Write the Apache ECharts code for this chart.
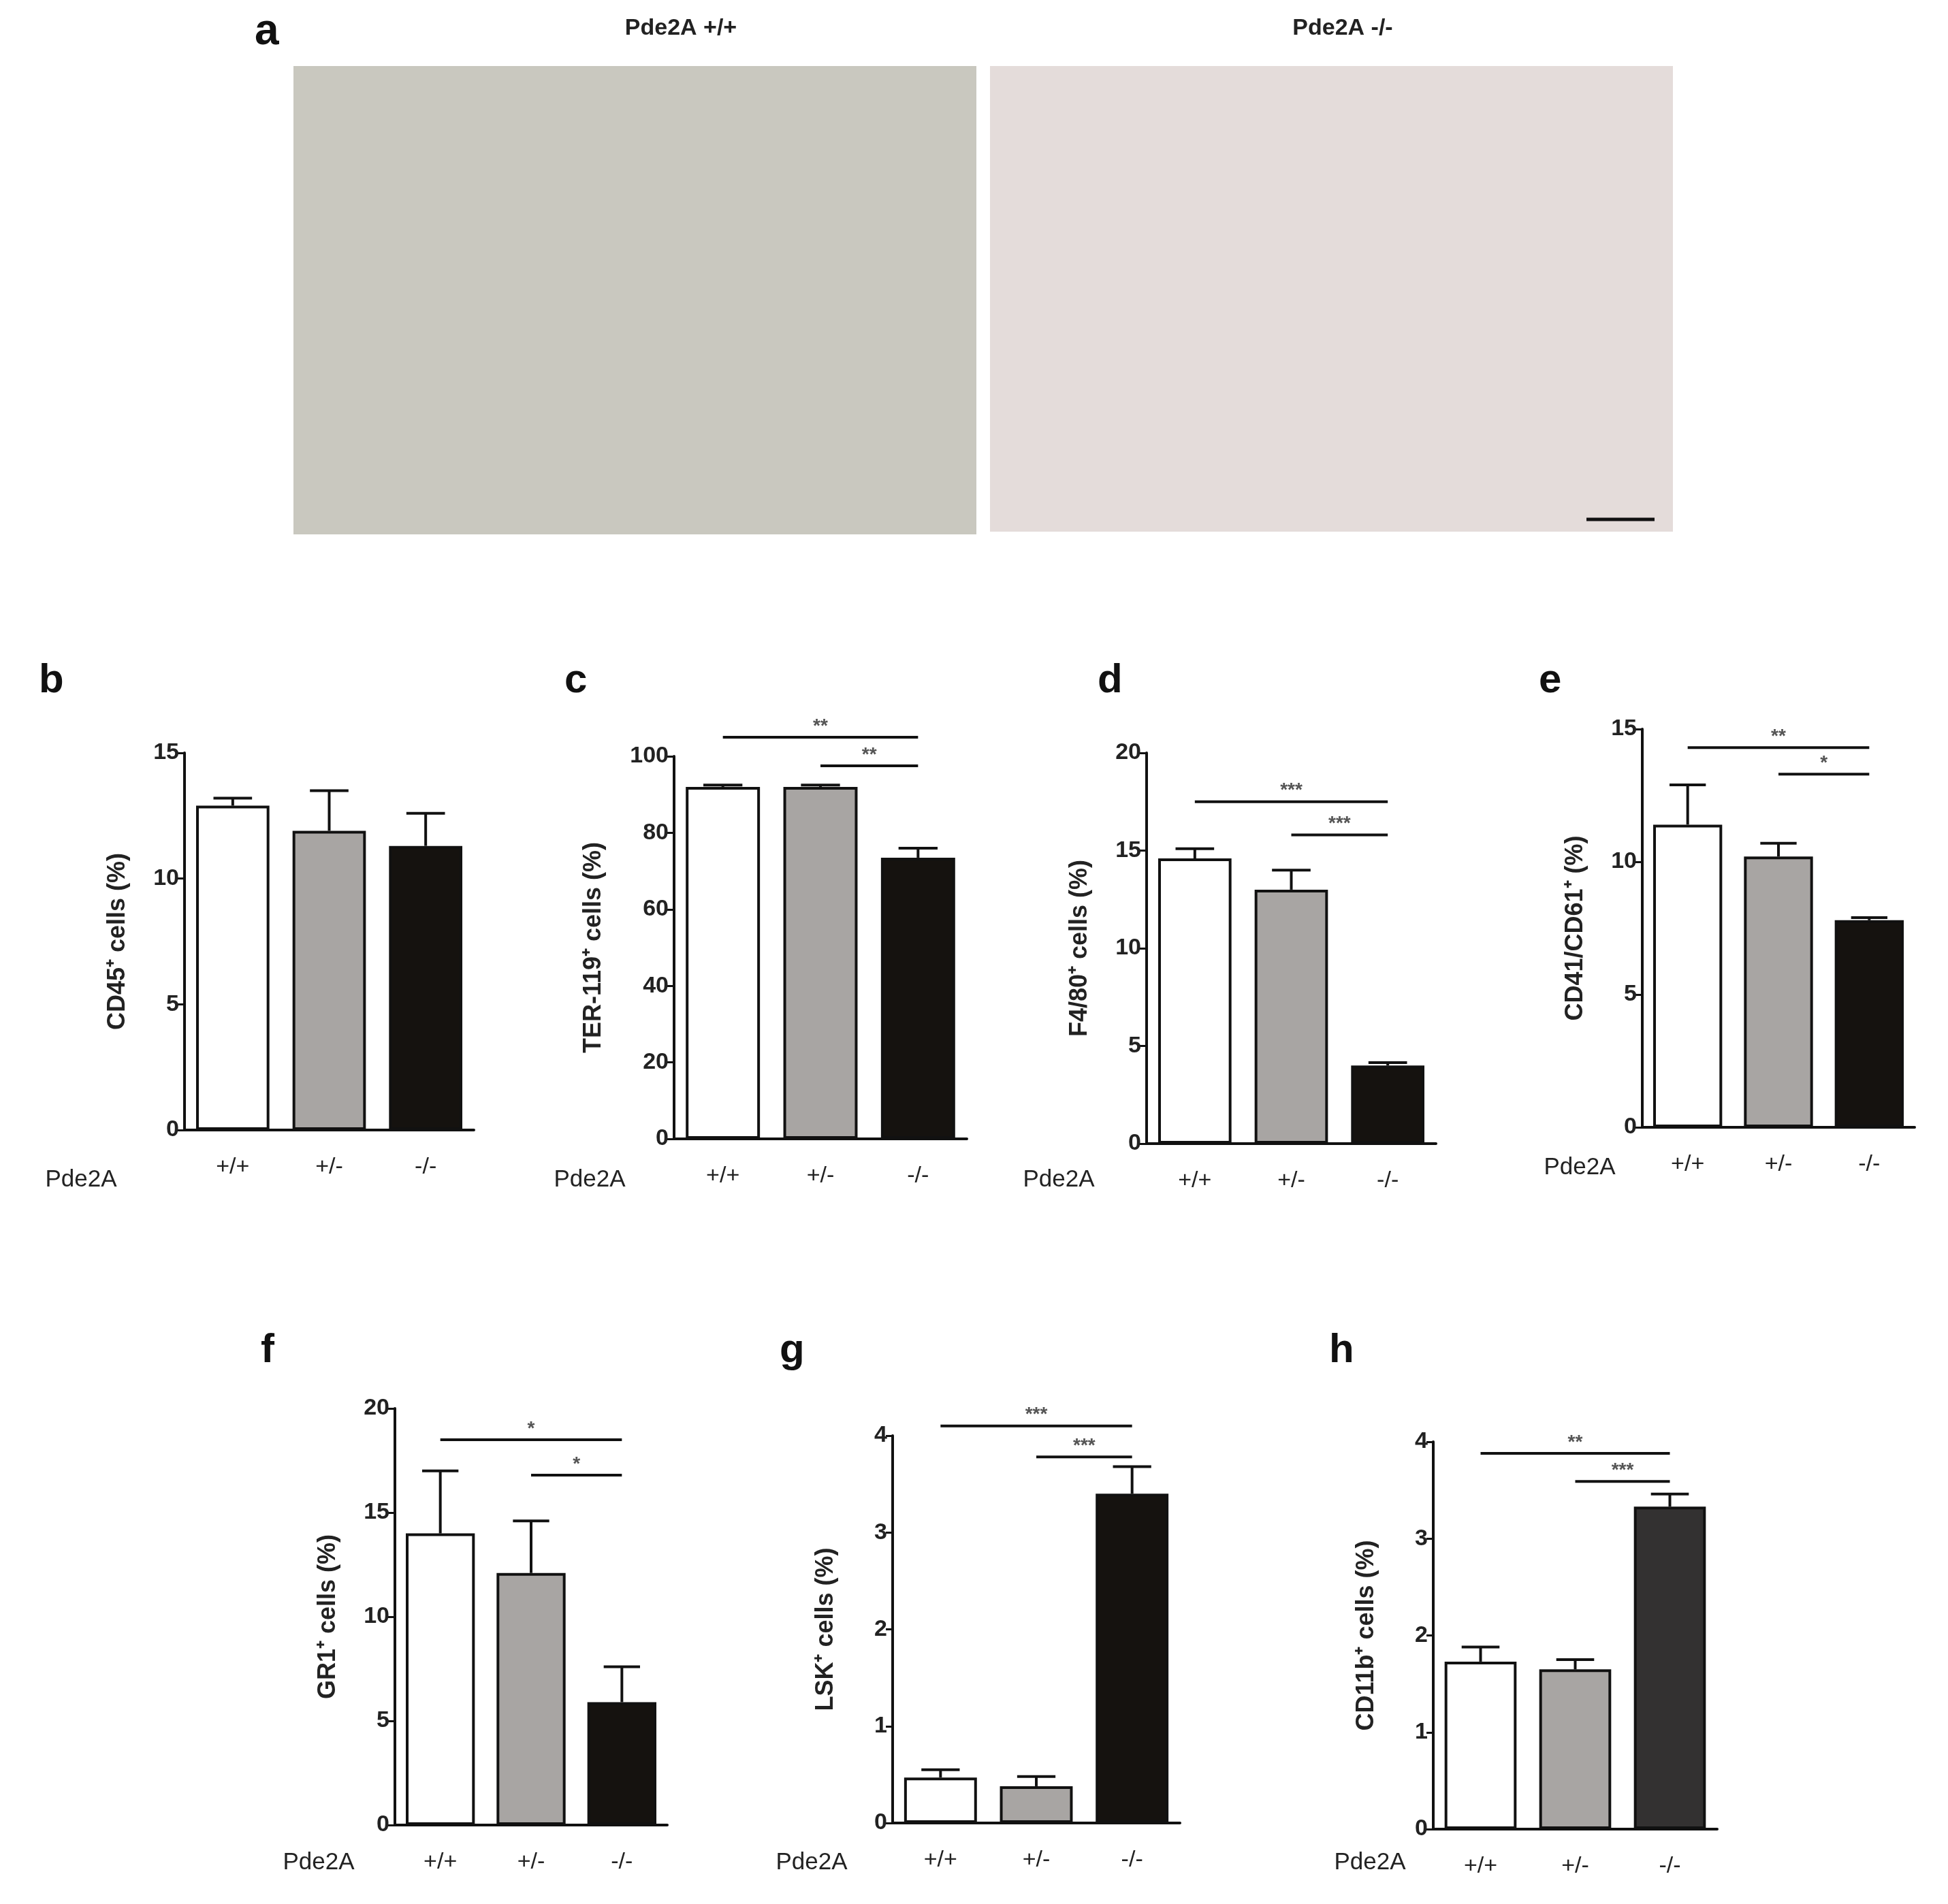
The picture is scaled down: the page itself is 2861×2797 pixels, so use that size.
<!DOCTYPE html>
<html><head><meta charset="utf-8">
<script src="https://cdn.jsdelivr.net/npm/echarts@6/dist/echarts.min.js"></script>
<style>html,body{margin:0;background:#fff}#c{width:2861px;height:2797px}</style>
</head><body><div id="c"></div>
<script>
const genotypes = ['+/+', '+/-', '-/-'];

// values (mean, error)
const bVals = [12.9, 11.9, 11.3], bErr = [0.3, 1.6, 1.3];
const cVals = [92, 92, 73.5],     cErr = [0.5, 0.5, 2.5];
const dVals = [14.6, 13.0, 4.0],  dErr = [0.5, 1.0, 0.15];
const eVals = [11.4, 10.2, 7.8],  eErr = [1.5, 0.5, 0.1];
const fVals = [14.0, 12.1, 5.9],  fErr = [3.0, 2.5, 1.7];
const gVals = [0.47, 0.38, 3.4],  gErr = [0.08, 0.1, 0.28];
const hVals = [1.73, 1.65, 3.33], hErr = [0.15, 0.1, 0.13];

// significance brackets: [from, to, height, label]
const cSig = [[0, 2, 105, '**'], [1, 2, 97.5, '**']];
const dSig = [[0, 2, 17.5, '***'], [1, 2, 15.8, '***']];
const eSig = [[0, 2, 14.3, '**'], [1, 2, 13.3, '*']];
const fSig = [[0, 2, 18.5, '*'], [1, 2, 16.8, '*']];
const gSig = [[0, 2, 4.1, '***'], [1, 2, 3.78, '***']];
const hSig = [[0, 2, 3.88, '**'], [1, 2, 3.59, '***']];

const panels = [
  { letter: 'b', name: 'CD45⁺ cells (%)', vals: bVals, err: bErr, sig: [], max: 15, step: 5, box: [271, 1106, 425, 554], lp: [77, 1000], pde: [119, 1733], dark: '#15120f' },
  { letter: 'c', name: 'TER-119⁺ cells (%)', vals: cVals, err: cErr, sig: cSig, max: 100, step: 20, box: [990, 1111, 430, 562], lp: [849, 1000], pde: [866, 1733], dark: '#15120f' },
  { letter: 'd', name: 'F4/80⁺ cells (%)', vals: dVals, err: dErr, sig: dSig, max: 20, step: 5, box: [1684, 1106, 425, 574], lp: [1632, 1000], pde: [1555, 1733], dark: '#15120f' },
  { letter: 'e', name: 'CD41/CD61⁺ (%)', vals: eVals, err: eErr, sig: eSig, max: 15, step: 5, box: [2412, 1071, 400, 585], lp: [2280, 1000], pde: [2320, 1715], dark: '#15120f' },
  { letter: 'f', name: 'GR1⁺ cells (%)', vals: fVals, err: fErr, sig: fSig, max: 20, step: 5, box: [580, 2069, 400, 612], lp: [403, 1984], pde: [468, 2736], dark: '#15120f' },
  { letter: 'g', name: 'LSK⁺ cells (%)', vals: gVals, err: gErr, sig: gSig, max: 4, step: 1, box: [1311, 2109, 422, 569], lp: [1165, 1984], pde: [1192, 2736], dark: '#15120f' },
  { letter: 'h', name: 'CD11b⁺ cells (%)', vals: hVals, err: hErr, sig: hSig, max: 4, step: 1, box: [2105, 2118, 417, 569], lp: [1972, 1984], pde: [2012, 2736], dark: '#333131' }
];

const font = 'Liberation Sans, Arial, sans-serif';
const grid = [], xAxis = [], yAxis = [], series = [], graphic = [];

panels.forEach((p, i) => {
  const [l, t, w, h] = p.box;
  grid.push({ left: l, top: t, width: w, height: h });
  xAxis.push({
    gridIndex: i, type: 'category', data: genotypes,
    axisLine: { lineStyle: { color: '#111', width: 4 } },
    axisTick: { alignWithLabel: true, length: 10, lineStyle: { color: '#111', width: 3 } },
    axisLabel: { color: '#222', fontSize: 34, fontFamily: font, margin: 38 }
  });
  yAxis.push({
    gridIndex: i, type: 'value', min: 0, max: p.max, interval: p.step,
    name: p.name, nameLocation: 'middle', nameGap: p.max >= 100 ? 100 : 80, nameRotate: 90,
    nameTextStyle: { fontSize: 36, fontWeight: 'bold', color: '#222', fontFamily: font },
    axisLine: { show: true, lineStyle: { color: '#111', width: 4 } },
    axisTick: { show: true, length: 10, lineStyle: { color: '#111', width: 3 } },
    axisLabel: { color: '#222', fontSize: 34, fontFamily: font, fontWeight: 'bold' },
    splitLine: { show: false }
  });
  const fills = ['#ffffff', '#a8a5a3', p.dark];
  series.push({
    type: 'bar', xAxisIndex: i, yAxisIndex: i, barCategoryGap: '24%',
    data: p.vals.map((v, k) => ({ value: v, itemStyle: { color: fills[k], borderColor: '#111', borderWidth: 4 } }))
  });
  series.push({
    type: 'custom', xAxisIndex: i, yAxisIndex: i, z: 1,
    data: p.vals.map((v, k) => [k, v, p.err[k]]),
    renderItem: (params, api) => {
      const top = api.coord([api.value(0), api.value(1) + api.value(2)]);
      const base = api.coord([api.value(0), api.value(1)]);
      const half = api.size([1, 0])[0] * 0.2;
      const st = { stroke: '#111', lineWidth: 4 };
      return { type: 'group', children: [
        { type: 'line', shape: { x1: top[0], y1: top[1], x2: base[0], y2: base[1] }, style: st },
        { type: 'line', shape: { x1: top[0] - half, y1: top[1], x2: top[0] + half, y2: top[1] }, style: st }
      ] };
    }
  });
  if (p.sig.length) series.push({
    type: 'custom', xAxisIndex: i, yAxisIndex: i,
    data: p.sig.map(s => [s[0], s[1], s[2], s[3]]),
    renderItem: (params, api) => {
      const a = api.coord([api.value(0), api.value(2)]);
      const b = api.coord([api.value(1), api.value(2)]);
      const lab = p.sig[params.dataIndex][3];
      return { type: 'group', children: [
        { type: 'line', shape: { x1: a[0], y1: a[1], x2: b[0], y2: b[1] }, style: { stroke: '#111', lineWidth: 4 } },
        { type: 'text', style: { text: lab, x: (a[0] + b[0]) / 2, y: a[1] - 2, align: 'center', verticalAlign: 'bottom', fontSize: 28, fontWeight: 'bold', fill: '#555', fontFamily: font } }
      ] };
    }
  });
  graphic.push({ type: 'text', left: p.lp[0] - 20, top: p.lp[1] - 30, style: { text: p.letter, fontSize: 60, fontWeight: 'bold', fill: '#111', fontFamily: font } });
  graphic.push({ type: 'text', x: p.pde[0], y: p.pde[1], style: { text: 'Pde2A', fontSize: 35, fill: '#222', fontFamily: font, align: 'center', verticalAlign: 'middle' } });
});

// panel a: micrograph placeholders with titles
graphic.push(
  { type: 'text', left: 374, top: 15, style: { text: 'a', fontSize: 64, fontWeight: 'bold', fill: '#111', fontFamily: font } },
  { type: 'rect', shape: { x: 431, y: 97, width: 1003, height: 688 }, style: { fill: '#c9c8bf' } },
  { type: 'rect', shape: { x: 1454, y: 97, width: 1003, height: 684 }, style: { fill: '#e4dcda' } },
  { type: 'text', x: 1000, y: 42, style: { text: 'Pde2A +/+', fontSize: 34, fontWeight: 'bold', fill: '#222', fontFamily: font, align: 'center', verticalAlign: 'middle' } },
  { type: 'text', x: 1972, y: 42, style: { text: 'Pde2A -/-', fontSize: 34, fontWeight: 'bold', fill: '#222', fontFamily: font, align: 'center', verticalAlign: 'middle' } },
  { type: 'line', shape: { x1: 2330, y1: 763, x2: 2430, y2: 763 }, style: { stroke: '#111', lineWidth: 5 } }
);

const chart = echarts.init(document.getElementById('c'));
chart.setOption({ animation: false, backgroundColor: '#fff', grid, xAxis, yAxis, series, graphic });
</script>
</body></html>
